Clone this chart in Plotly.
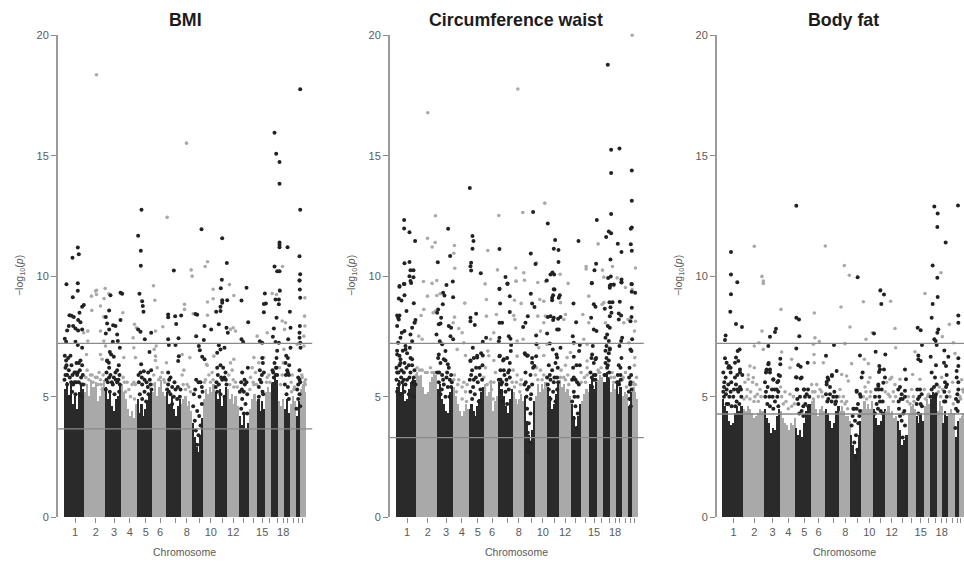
import plotly.graph_objects as go

DARK = "#2a2a2a"
GREY = "#a9a9a9"
LINE = "#8a8a8a"
TEXT = "#5a5a5a"

chrom_len = [61,63,48,48,46,42,44,33,34,34,38,34,31,26,22,19,20,19,16,19,14,17]
label_offset = [35,97,152,199,247,290,370,442,509,596,659]
label_text = ["1","2","3","4","5","6","8","10","12","15","18"]
minor_offset = [336,407,476,541,569,619,641,673,691,706,716]

titles = ["BMI", "Circumference waist", "Body fat"]
starts = [189, 195, 186]
sig_line = [7.21, 7.21, 7.21]
sug_line = [3.66, 3.3, 4.28]

bmi_mass = [[5.3,5.6,5.0,5.5,4.7,5.0,4.5,5.2,5.5,5.3],[5.2,5.5,5.0,5.7,5.4,5.6,4.8,5.0,5.4,5.7],[5.4,4.9,5.2,4.6,4.4,4.9,5.0,5.5],[5.5,5.2,4.9,4.5,4.2,4.4,4.1,4.7],
 [4.9,4.3,4.7,4.2,4.5,4.8,5.1,5.3],[5.2,5.6,5.0,5.4,5.7,5.2,5.0],[5.2,4.7,5.0,4.5,4.2,4.6,4.9],[4.7,4.9,5.0,4.6,4.8,4.4],[3.9,3.3,2.9,2.7,3.4,4.1],[4.9,5.3,5.1,5.4,5.2,5.5],
 [5.2,4.9,5.3,4.6,5.0,5.4],[5.3,4.9,5.1,4.7,5.0,4.6],[4.2,3.8,4.3,3.7,3.9],[4.5,4.9,5.1,4.8],[4.9,4.4,4.8,4.5],[5.2,5.4,5.2],[5.6,5.8,5.7],[4.8,4.6,4.9],[4.5,4.9,4.3],[4.7,5.0,4.8],[4.2,4.8],[5.3,5.5,5.2]]
cw_mass = [[5.4,5.7,5.2,5.5,4.8,4.9,5.3,5.6,5.8,5.7],[6.0,5.8,5.9,5.4,5.1,5.2,5.6,5.8,6.0,5.9],[5.3,5.5,4.9,4.7,4.4,4.3,5.2,5.4],[5.4,5.0,4.7,4.4,4.2,4.4,4.7,4.5],
 [4.5,4.7,4.4,4.2,4.6,4.9,5.2,5.4],[5.5,5.0,5.2,5.7,4.4,4.8,5.0],[5.6,5.3,5.0,4.6,4.3,4.9,5.3],[5.2,4.9,4.7,4.9,5.1,4.8],[5.0,4.0,3.4,3.1,3.6,4.8],[5.0,5.5,5.2,5.5,5.3,5.6],
 [5.4,5.0,4.5,4.7,5.1,5.5],[5.7,5.4,5.5,5.2,5.3,5.0],[4.7,4.2,3.7,4.2,4.7],[4.8,5.1,5.3,5.2],[5.5,5.8,5.3,5.6],[5.7,5.9,5.8],[5.6,6.0,5.8],[5.2,5.5,5.3],[5.5,5.1,5.4],[5.0,5.2,5.1],[4.6,5.2],[5.4,5.2,4.9]]
bf_mass = [[4.9,4.6,4.4,4.0,3.8,3.9,4.3,4.6,4.4,4.6],[4.5,4.4,4.6,4.5,4.3,4.1,4.2,4.3,4.5,4.4],[4.5,4.1,3.9,3.5,3.7,3.6,4.2,4.5],[4.4,4.1,3.9,3.8,3.6,3.9,3.8,4.1],
 [3.7,3.4,3.6,3.3,3.9,4.4,4.6,4.7],[4.8,4.9,4.5,4.2,4.5,4.6,4.4],[4.5,4.3,4.0,3.7,3.9,4.4,4.6],[4.4,4.6,4.4,4.2,4.2,4.0],[3.4,3.0,2.6,2.8,3.4,4.0],[4.5,4.8,4.5,4.7,4.5,4.8],
 [4.5,4.1,3.8,4.0,4.3,4.5],[4.4,4.6,4.3,4.4,4.1,4.2],[4.0,3.6,3.0,3.2,3.4],[4.3,4.6,4.7,4.5],[4.2,3.9,4.3,4.0],[4.6,4.9,4.7],[4.9,5.2,5.0],[4.4,4.8,4.6],[3.9,4.4,4.2],[4.3,4.5,4.3],[3.3,4.0],[4.1,4.2,4.3]]

bmi_black = [(198,9.66),(216,10.76),(232,11.19),(235,10.91),(232,9.71),(413,11.68),(421,11.05),(421,10.43),(423,12.76),(520,10.23),(603,11.95),(665,11.57),(679,10.55),(664,9.85),(661,9.5),(738,9.52),(822,15.95),(827,15.08),(837,14.74),(837,13.83),(899,17.76),(899,12.76),(837,11.4),(837,11.3),(837,11.2),(861,11.2),(897,10.83),(822,10.4),(830,10.2),(837,10.2),(899,10.08),(897,9.82),(898,9.45),
 (217,9.12),(232,9.39),(250,8.8),(245,8.73),(237,8.48),(207,8.38),(213,8.36),(220,8.31),(205,7.93),(200,7.75),(218,7.93),(225,7.83),(233,7.75),(233,8.18),(240,8.09),(245,7.79),(193,7.4),(197,7.28),(225,7.28),(232,7.14),(245,7.03),
 (330,9.21),(326,8.58),(316,8.31),(320,8.04),(326,7.79),(316,7.62),(338,7.96),(345,7.93),(360,8.18),(350,7.58),(337,7.28),(352,7.31),(358,7.03),(328,6.85),(332,6.75),(340,6.66),(320,6.48),(325,6.41),(360,9.31),(365,9.27),
 (417,9.27),(425,8.96),(427,8.76),(429,8.52),(413,7.79),(420,7.69),(433,7.38),(452,7.65),(447,6.85),(422,6.34),
 (503,8.41),(503,8.3),(503,7.38),(505,7.14),(525,7.14),(524,8.34),(542,8.37),(527,8.02),(534,7.42),(535,6.68),(533,6.48),
 (585,8.43),(590,8.4),(587,7.51),(595,7.1),(598,6.93),(605,6.66),(612,6.55),(610,7.35),(612,7.93),(632,7.79),
 (647,8.52),(660,8.55),(660,8.73),(665,8.9),(665,9.0),(680,9.0),(655,8.0),(655,7.13),(650,6.82),(660,6.96),(672,7.03),(678,7.86),(682,7.65),(723,8.99),(743,8.09),(723,7.38),(728,7.27),
 (790,8.85),(796,8.87),(790,8.5),(793,9.28),(778,7.3),(785,7.24),
 (825,9.03),(835,9.03),(835,8.83),(838,9.4),(828,8.27),(820,7.83),(817,7.49),(825,7.27),(835,7.24),(868,8.52),(870,7.86),(863,7.38),(870,7.03),
 (897,9.82),(899,9.1),(898,7.93),(897,7.65),(897,7.44),(900,7.03),(899,7.24)]
bmi_grey = [(288,18.36),(558,15.52),(500,12.44),(572,10.26),(575,10.0),(621,10.6),(614,10.4),(846,10.4),(459,9.6),(687,9.65),(638,9.46),(314,9.49),(288,9.41),(837,9.43),
 (273,9.17),(285,9.38),(311,9.07),(325,9.27),(300,8.76),(274,8.58),(288,9.24),(262,7.72),(250,7.65),(300,7.72),(310,8.31),(367,8.48),(362,9.31),(402,8.0),(408,7.86),(398,7.44),(400,7.03),(463,9.0),(465,7.72),(487,7.9),(552,8.83),(552,8.62),(578,8.44),(621,8.38),(621,8.93),(638,9.06),(700,9.2),(698,7.86),(690,7.79),(705,7.72),(770,7.51),(800,7.65),(815,9.28),(828,9.24),(845,8.14),(855,8.07),(852,7.79),(913,9.1),(912,8.34),(913,7.93),(910,7.51),(890,7.17),(910,7.1),(850,6.96),(262,7.31),(310,7.31),(315,7.1),(258,6.75),(305,6.55),(300,6.75),(370,6.62),(405,6.62),(461,6.96),(467,7.1),(465,6.68),(498,6.41),(545,6.75),(568,6.62),(618,6.34),(640,6.68),(700,6.55),(760,6.62),(790,6.62),(775,6.41)]
bmi_black_fuzz = [(193,6.7),(197,6.5),(203,6.6),(210,6.7),(195,6.2),(205,6.1),(213,6.3),(200,5.9),(192,5.7),(208,5.8),(218,5.5),(222,6.0),(232,6.0),(240,6.5),(245,6.3),(238,6.1),(247,5.9),(228,6.4),(235,5.6),(243,5.5),(227,5.6),(215,5.2),(225,5.1),(238,5.1),(245,5.0),(207,5.0),
 (320,6.5),(326,6.2),(318,6.0),(330,5.9),(340,5.8),(355,6.3),(350,6.1),(345,6.0),(357,5.9),(322,5.6),(337,5.5),(350,5.6),(356,5.2),(328,5.2),(342,5.1),(316,5.3),
 (420,6.0),(430,6.05),(443,6.0),(452,6.1),(415,5.6),(425,5.5),(438,5.6),(448,5.7),(453,5.3),(418,5.1),(432,5.2),(444,5.1),(425,4.9),(437,4.8),
 (503,6.0),(510,5.8),(503,5.5),(515,5.4),(525,5.3),(540,5.3),(510,5.1),(520,5.0),(530,4.9),(505,5.2),(538,5.0),(515,4.7),
 (580,5.1),(587,5.7),(600,5.6),(606,5.2),(578,4.6),(597,5.0),(604,4.7),(590,4.4),(583,4.0),(596,4.2),(586,3.6),(594,3.4),(590,3.0),(600,3.8),
 (650,6.2),(660,6.3),(668,6.2),(675,6.0),(648,5.6),(655,5.5),(665,5.7),(678,5.5),(672,5.8),(650,5.2),(660,5.1),(672,5.0),
 (725,6.0),(732,5.7),(722,5.6),(730,5.2),(740,5.1),(718,5.2),(725,4.9),(735,4.7),(722,4.5),(740,4.3),(730,4.3),(742,6.2),
 (785,6.6),(787,6.4),(778,6.1),(790,6.0),(782,5.6),(775,5.4),(786,5.2),(775,5.0),(788,5.1),
 (830,6.9),(828,6.6),(822,6.4),(828,6.2),(818,6.0),(826,5.9),(820,5.8),
 (857,6.7),(862,6.6),(866,6.3),(855,6.4),(860,6.1),(865,5.9),(853,5.5),(862,5.4),(858,5.1),(865,4.9),
 (897,6.1),(893,5.8),(899,5.6),(890,5.3),(897,5.1),(893,4.9),(899,4.6),(888,4.5),
 (195,5.9),(200,5.5),(212,5.6),(222,5.6),(230,5.9),(242,5.8),(248,5.5),(198,6.3),(216,5.9),(225,6.0),(235,6.4),(326,5.8),(334,5.6),(346,5.7),(354,5.7),(358,5.5),(318,5.7),(424,5.8),(432,5.7),(414,5.9),(442,5.4),(450,5.5),(506,5.7),(522,5.6),(532,5.4),(500,5.3),(584,5.3),(594,5.6),(604,5.4),(652,5.9),(662,5.8),(676,5.7),(646,5.4),(724,5.3),(733,5.5),(738,5.6),(778,5.7),(784,5.9),(816,6.1),(826,6.2),(830,5.9),(856,5.9),(862,6.0),(893,5.5),(897,5.7)]
bmi_grey_fuzz = [(260,6.1),(270,5.9),(285,5.8),(300,5.7),(308,5.9),(265,5.7),(278,5.6),(293,5.5),(253,5.5),(305,5.3),(368,5.8),(380,5.6),(395,5.5),(405,5.5),(375,5.2),(390,5.0),(402,4.9),(460,5.9),(470,6.2),(480,5.8),(490,5.7),(465,6.5),(545,5.9),(560,5.5),(570,5.2),(550,6.1),(555,5.3),(612,5.6),(625,5.9),(635,6.0),(620,6.3),(685,5.9),(695,6.1),(705,5.6),(690,6.4),(700,5.4),(750,5.8),(760,5.5),(765,6.0),(755,6.2),(798,5.6),(805,5.9),(837,6.2),(845,5.9),(848,6.4),(872,5.6),(880,5.3),(875,5.9),(905,5.8),(912,5.6),(908,5.4),(914,5.5),
 (256,5.8),(275,5.9),(290,5.8),(302,5.5),(296,6.0),(372,5.6),(385,5.3),(400,5.6),(458,5.5),(475,5.7),(485,6.0),(493,5.6),(548,5.5),(565,5.4),(615,5.7),(630,5.6),(638,5.7),(688,5.5),(698,5.7),(710,5.4),(748,5.3),(758,5.6),(768,5.5),(800,5.8),(808,5.6),(840,5.5),(873,5.2),(882,5.4),(904,5.9),(915,5.7)]

cw_black = [(207,9.56),(220,9.67),(221,12.33),(221,11.98),(237,11.82),(254,11.46),(222,10.54),(237,10.59),(240,10.25),(249,10.25),(237,10.0),(249,9.96),(240,9.8),(242,9.72),(353,11.97),(359,10.84),(322,10.58),(348,9.63),(367,9.78),(418,13.66),(426,11.67),(429,11.46),(426,11.14),(422,10.56),(420,10.41),(422,10.23),(451,10.12),(507,11.13),(525,9.97),(531,9.68),(507,9.48),(608,12.66),(652,12.19),(674,11.5),(670,11.14),(684,11.09),(601,10.94),(615,10.51),(684,10.59),(660,10.07),(666,10.15),(671,10.07),(649,9.82),(670,9.46),(744,11.46),(799,12.33),(797,10.52),(792,10.25),(784,9.71),(832,18.77),(842,15.25),(867,15.3),(842,14.28),(842,12.58),(835,11.85),(842,11.78),(827,11.63),(862,11.35),(873,11.0),(840,10.69),(833,9.92),(841,9.99),(873,9.86),(873,9.74),(841,9.64),(838,9.52),(904,14.39),(904,13.13),(904,12.02),(901,11.97),(901,11.32),(904,11.05),(904,9.66),
 (207,9.59),(222,9.67),(205,9.07),(213,8.99),(222,9.21),(250,8.88),(228,8.55),(200,8.37),(207,8.37),(203,8.27),(205,8.2),(200,7.93),(214,7.65),(222,7.72),(245,7.86),(255,8.18),(252,8.07),(210,7.44),(203,7.24),(240,7.58),(245,7.3),(225,6.96),(238,7.03),(200,6.75),(210,6.55),(245,6.55),
 (338,9.31),(342,9.2),(337,8.83),(323,8.62),(320,8.48),(332,8.27),(330,8.04),(325,8.0),(355,7.93),(362,7.86),(318,7.58),(328,7.3),(335,7.17),(360,7.51),(368,7.38),(345,6.89),(325,6.75),(340,6.55),(352,6.34),
 (368,9.13),(427,7.03),(437,8.44),(420,8.27),(420,8.13),(433,7.97),(457,7.28),(467,7.44),(440,6.62),(457,6.71),(420,6.48),
 (507,9.47),(531,9.7),(538,9.17),(509,8.87),(538,8.51),(507,8.07),(515,8.07),(507,7.44),(505,7.3),(535,7.51),(540,7.4),(542,7.14),(541,6.89),(507,6.68),(520,6.55),
 (601,9.27),(605,8.87),(612,8.72),(592,8.34),(585,8.07),(578,7.89),(585,6.75),(592,6.71),(618,7.17),(617,7.54),(617,6.68),(605,6.41),(612,6.27),
 (672,9.45),(668,9.21),(688,9.21),(665,9.1),(685,9.1),(665,9.0),(660,8.34),(652,8.31),(670,8.27),(683,8.23),(690,8.31),(668,8.18),(650,7.62),(680,7.79),(685,7.79),(658,7.21),(667,6.96),(678,6.75),(690,7.03),(680,6.62),
 (729,8.87),(737,8.09),(727,7.51),(730,7.24),(748,7.14),(746,6.89),(730,6.66),
 (784,9.72),(790,8.83),(795,8.73),(782,8.27),(790,7.79),(798,7.72),(787,7.1),(785,6.75),(795,6.55),
 (838,9.6),(850,9.65),(873,9.75),(903,9.68),(904,9.35),(914,9.31),(837,8.92),(846,8.92),(868,8.94),(823,8.65),(840,8.71),(843,8.48),(838,8.34),(832,7.93),(838,7.86),(830,7.58),(825,7.44),(835,7.31),(828,7.1),(838,6.96),(865,8.45),(872,8.37),(865,8.2),(872,7.31),(875,7.44),(867,7.1),(904,8.69),(903,8.31),(900,8.13),(905,7.38),(900,6.96),(903,6.89)]
cw_grey = [(292,16.78),(562,17.77),(905,20.0),(643,13.03),(577,12.64),(505,12.52),(315,12.51),(291,11.57),(314,11.4),(305,11.21),(372,11.27),(370,10.95),(472,11.06),(373,10.33),(556,10.34),(501,10.26),(580,10.14),(618,10.55),(689,10.08),(803,11.34),(767,10.4),(767,10.3),(846,10.4),(816,10.25),(915,10.34),(820,9.96),(860,9.93),(279,9.78),(319,9.82),(305,9.7),(464,9.68),(557,9.79),(582,9.83),(622,9.74),(645,9.78),(713,9.7),(850,9.6),(885,9.53),(905,9.45),
 (291,9.17),(319,9.2),(329,9.27),(280,8.62),(272,8.37),(308,8.48),(315,8.55),(403,8.88),(372,8.3),(368,8.07),(385,7.83),(395,7.65),(265,7.51),(275,7.38),(255,8.07),(468,9.03),(468,8.34),(498,8.41),(550,8.37),(553,8.2),(572,8.87),(552,9.0),(557,9.8),(578,7.38),(560,7.31),(622,8.34),(628,9.03),(640,8.96),(645,8.34),(640,8.07),(630,7.72),(650,7.17),(690,8.9),(700,8.2),(705,8.41),(757,8.41),(775,9.17),(820,8.9),(815,8.83),(825,8.07),(775,8.07),(880,8.07),(893,8.2),(915,8.13),(912,7.72),(895,7.24),(913,6.62),(760,7.38),(770,7.17),(400,7.24),(380,6.96),(405,6.71),(490,7.65),(480,7.38),(472,6.89),(560,6.68),(625,7.03),(640,6.71),(710,6.62),(720,6.83),(770,6.48)]
cw_black_fuzz = [(200,6.0),(207,6.3),(213,6.1),(220,6.0),(228,6.2),(235,6.3),(245,6.3),(252,6.1),(198,5.7),(205,5.5),(215,5.6),(225,5.5),(237,5.8),(247,5.6),(255,5.5),(200,5.2),(210,5.1),(222,5.2),(235,5.1),(250,5.0),(207,6.7),(217,6.9),(230,6.8),(240,6.6),(200,6.9),(225,7.1),
 (323,6.6),(330,6.4),(345,6.5),(355,6.2),(320,6.0),(335,5.9),(348,5.8),(362,5.9),(325,5.6),(340,5.5),(352,5.4),(362,5.4),(330,5.1),(345,5.0),(357,5.0),
 (420,6.5),(430,6.6),(440,6.7),(452,6.8),(425,6.1),(437,6.2),(447,6.2),(418,5.7),(430,5.7),(442,5.6),(455,5.7),(420,5.2),(433,5.1),(450,5.3),(425,4.9),(445,4.8),
 (508,6.7),(518,6.5),(530,6.6),(538,6.4),(510,6.1),(520,6.1),(533,6.0),(505,5.7),(515,5.6),(528,5.7),(538,5.8),(510,5.2),(525,5.2),(535,5.3),(515,4.8),(530,4.7),
 (583,6.8),(590,6.7),(605,6.6),(585,6.0),(600,5.9),(608,6.2),(582,5.5),(595,5.4),(605,5.5),(588,5.0),(600,4.9),(590,4.5),(600,4.3),(595,3.9),(592,3.5),(598,3.1),(594,2.7),
 (655,6.3),(665,6.1),(675,6.4),(682,6.2),(650,5.8),(660,5.7),(672,5.8),(683,5.6),(655,5.3),(668,5.2),(680,5.3),(660,4.9),(675,4.8),
 (728,6.2),(738,6.3),(748,6.3),(725,5.7),(735,5.7),(745,5.5),(730,5.2),(742,5.0),(725,4.8),(735,4.6),(742,4.3),(730,4.1),(738,3.7),
 (783,6.6),(790,6.4),(797,6.6),(780,6.0),(790,5.9),(795,5.7),(785,5.4),
 (825,6.4),(835,6.8),(830,6.2),(822,5.9),(836,6.0),(828,6.6),(838,7.0),(825,6.9),
 (865,6.3),(870,6.2),(862,5.9),(871,5.7),(866,5.5),(873,6.6),(860,5.6),
 (897,6.2),(902,5.9),(899,5.5),(895,5.2),(903,5.3),(897,4.9),(901,4.6),
 (198,6.2),(204,6.0),(212,5.8),(220,5.7),(230,5.7),(240,6.0),(250,5.8),(210,6.4),(222,6.4),(326,6.0),(338,5.7),(350,6.0),(358,5.7),(364,5.6),(334,5.3),(422,5.9),(436,5.8),(448,5.9),(456,6.3),(428,5.4),(510,5.7),(522,5.9),(536,6.1),(512,5.5),(528,5.5),(590,5.3),(602,5.1),(586,5.6),(658,5.9),(670,5.6),(680,5.8),(652,5.5),(730,5.8),(740,5.6),(732,5.0),(784,5.8),(790,5.7),(795,5.9),(824,5.9),(832,6.3),(835,6.5),(864,5.6),(870,5.9),(896,5.8),(900,5.6)]
cw_grey_fuzz = [(260,6.2),(275,6.1),(285,6.0),(300,6.2),(312,6.0),(265,5.8),(310,5.6),(372,5.9),(385,5.7),(400,5.6),(410,5.5),(378,5.2),(395,4.9),(408,4.8),(465,6.2),(475,6.7),(490,6.5),(495,6.0),(470,5.5),(483,5.3),(488,4.9),(548,6.1),(560,5.9),(572,5.7),(552,5.4),(568,5.2),(618,6.2),(630,6.1),(640,5.9),(622,5.7),(692,6.1),(700,5.8),(712,5.9),(705,6.3),(752,6.0),(762,5.8),(770,6.2),(805,6.0),(812,6.2),(845,6.0),(852,5.8),(878,5.8),(885,6.0),(912,6.3),(918,5.8),(910,5.5),
 (258,5.9),(268,6.1),(290,6.0),(305,6.0),(370,5.7),(382,5.5),(395,5.4),(405,5.2),(460,5.8),(480,5.6),(490,5.6),(545,5.6),(558,5.6),(570,5.5),(615,5.9),(635,5.7),(690,5.8),(705,5.7),(715,5.5),(752,5.6),(765,5.6),(770,5.9),(803,6.1),(808,6.0),(842,5.8),(850,5.6),(876,5.7),(888,5.4),(908,5.6),(915,5.5)]

bf_black = [(213,11.0),(213,10.07),(232,9.75),(409,12.92),(593,9.96),(823,12.89),(833,12.6),(832,12.04),(857,11.4),(818,10.44),(832,9.93),(894,12.93),
 (213,9.25),(211,8.52),(228,8.01),(246,7.89),(197,7.54),(195,7.35),(239,6.96),(233,6.89),(228,6.62),(195,6.59),(200,6.41),(207,6.27),(212,6.2),(225,6.41),(235,6.48),(240,6.13),
 (348,7.82),(345,7.68),(330,7.49),(325,7.1),(361,6.57),(361,6.34),(325,6.34),(320,6.13),(330,6.13),(360,5.86),(318,6.0),(340,5.72),(355,5.65),
 (409,8.27),(417,8.2),(418,7.51),(409,7.0),(443,6.41),(415,6.3),(422,6.24),(408,5.81),(422,5.75),(410,5.3),(432,5.3),
 (661,9.41),(672,9.24),(664,8.85),(642,7.62),(647,6.86),(676,6.75),(522,7.14),(498,6.7),(530,6.06),(516,5.86),(503,5.79),(500,5.61),(600,6.71),(608,6.0),(605,5.79),(590,5.24),
 (658,6.27),(672,6.13),(660,6.13),(657,6.02),(675,5.79),(670,5.58),(655,5.44),
 (818,8.85),(833,9.14),(815,8.27),(773,7.86),(782,7.76),(835,7.79),(832,7.65),(823,7.38),(827,7.31),(830,7.14),(786,7.14),(853,6.92),(775,6.71),(775,6.55),(782,6.48),(812,6.66),(735,6.13),(738,5.72),(735,5.24),
 (895,8.37),(895,8.07),(895,6.59),(865,6.66),(852,6.41),(858,6.27),(895,6.27),(890,6.06)]
bf_grey = [(283,11.24),(496,11.25),(553,10.44),(568,10.04),(306,9.99),(310,9.8),(310,9.7),(843,10.14),(662,9.44),
 (363,8.62),(463,8.47),(543,8.72),(610,8.94),(692,8.96),(795,9.28),(570,7.89),(705,7.83),(306,7.72),(868,8.0),(637,7.65),(618,7.38),(465,7.44),(478,7.29),(460,7.17),(555,7.2),(707,7.03),(847,7.49),(880,7.24),(297,7.24),(283,7.1),(310,6.96),(765,6.86),(885,6.79),(365,6.85),(395,6.55),(462,6.75),(463,6.41),(490,6.41),(575,6.37),(613,6.55),(625,6.37),(758,5.92),(270,6.27),(283,6.2),(265,5.72),(280,5.79),(390,6.2),(415,6.34),(545,5.92),(560,5.86),(565,5.65),(630,5.79),(690,5.72),(720,5.72),(780,5.72)]
bf_black_fuzz = [(190,6.0),(193,5.6),(197,5.8),(205,6.2),(212,6.0),(205,5.5),(214,5.6),(190,5.2),(200,5.3),(192,5.0),(225,5.8),(232,5.9),(240,6.0),(247,5.9),(228,5.5),(240,5.4),(235,5.2),(220,5.0),(230,4.8),(244,5.0),(200,4.7),(215,4.6),
 (320,6.1),(330,6.0),(326,6.4),(315,5.6),(323,5.4),(340,5.7),(352,5.6),(356,5.9),(350,5.3),(355,5.2),(316,5.0),(338,5.0),(322,4.7),(345,4.8),(355,4.6),
 (410,5.8),(425,5.8),(432,5.3),(440,5.1),(448,5.0),(412,5.3),(415,4.7),(436,4.7),(445,4.6),(425,4.4),(440,4.3),(430,4.2),
 (505,5.7),(516,5.9),(500,5.5),(523,5.2),(530,5.0),(510,5.1),(505,4.9),(515,4.8),(528,4.8),
 (590,5.2),(600,5.1),(602,5.0),(580,4.5),(590,4.5),(600,4.4),(585,4.0),(595,3.9),(575,3.8),(588,3.4),(583,3.1),(592,2.8),(587,2.5),
 (655,5.5),(665,5.3),(645,5.0),(658,5.0),(668,4.8),(650,4.7),(662,4.4),(645,4.3),(668,4.3),
 (720,5.4),(725,5.1),(735,5.0),(715,5.3),(722,4.9),(717,4.5),(730,4.3),(725,4.0),(735,3.8),(728,3.3),
 (772,5.3),(785,5.1),(778,5.0),(770,4.7),(782,4.7),(775,4.3),
 (815,5.3),(825,5.8),(820,5.0),(830,5.5),(815,6.0),(828,5.1),(828,6.3),
 (855,5.6),(860,5.9),(853,5.2),(860,5.0),(856,4.8),(861,5.5),
 (890,5.8),(895,5.3),(888,4.9),(893,4.4),(886,3.7),(894,4.8),(895,5.6),
 (192,5.4),(198,5.1),(208,5.0),(212,5.2),(222,5.3),(232,5.3),(243,5.3),(205,4.7),(226,4.6),(238,4.7),(318,5.2),(328,5.0),(336,5.3),(344,5.3),(352,5.0),(330,4.6),(340,4.5),(412,4.9),(420,5.0),(435,5.0),(444,5.3),(430,4.6),(418,4.3),(498,5.1),(510,5.4),(520,5.0),(526,4.7),(502,4.8),(582,4.5),(594,4.7),(598,4.2),(578,4.2),(648,5.3),(656,5.3),(660,4.8),(654,4.5),(716,4.8),(728,4.9),(733,4.4),(720,4.2),(774,4.9),(780,5.3),(786,4.6),(812,5.0),(822,5.4),(826,5.0),(852,4.8),(858,5.4),(888,4.5),(892,5.1)]
bf_grey_fuzz = [(255,5.6),(265,5.9),(278,5.6),(290,5.5),(300,5.3),(260,5.0),(270,4.9),(285,5.0),(295,4.8),(362,5.4),(375,5.2),(390,5.1),(400,5.0),(370,4.7),(385,4.5),(455,5.5),(465,5.2),(480,5.3),(488,5.0),(460,4.9),(540,5.3),(550,5.0),(560,4.8),(563,4.5),(615,5.4),(625,5.6),(632,5.2),(620,4.9),(680,5.6),(695,5.8),(705,5.5),(690,5.0),(700,4.8),(745,5.0),(755,5.3),(762,4.8),(793,5.3),(803,5.0),(838,5.4),(845,5.8),(868,5.2),(878,5.6),(905,5.7),(908,5.3),(900,5.0),
 (252,4.9),(262,5.3),(272,5.2),(282,4.8),(292,5.1),(303,5.0),(365,5.0),(378,4.8),(395,4.6),(403,4.7),(458,5.2),(470,5.5),(475,5.0),(485,5.2),(537,5.0),(545,4.8),(555,4.7),(610,5.0),(618,5.2),(630,5.0),(676,5.2),(685,5.1),(700,5.2),(707,5.0),(742,4.8),(750,4.7),(760,5.0),(796,4.9),(806,5.1),(835,5.2),(842,5.0),(848,5.3),(870,5.0),(880,4.7),(902,4.9),(910,5.2)]

masses = [bmi_mass, cw_mass, bf_mass]
blacks = [bmi_black + bmi_black_fuzz, cw_black + cw_black_fuzz, bf_black + bf_black_fuzz]
greys = [bmi_grey + bmi_grey_fuzz, cw_grey + cw_grey_fuzz, bf_grey + bf_grey_fuzz]

W, H = 964, 564
frames = [(57.8, 312.2), (389.8, 643.8), (716.8, 964.0)]
ranges = [(172, 935), (178, 940), (170.5, 912)]
title_px = [185, 516, 843]
ylab_px = [20, 352, 679]
xlab_px = [184, 516, 844]

def paper_y(py):
    # page pixel row to paper fraction; the drawn area spans rows 5 to 559
    return 1 - (py - 5) / 554

dom_y = [paper_y(518), paper_y(34.3)]

fig = go.Figure()
layout = dict(width=W, height=H, margin=dict(l=0, r=0, t=0, b=0), showlegend=False, bargap=0,
              plot_bgcolor="white", paper_bgcolor="white", barmode="overlay",
              font=dict(family="Liberation Sans, Arial, sans-serif", color=TEXT, size=11))
annotations, shapes = [], []

for i in range(3):
    suffix = "" if i == 0 else str(i + 1)
    xa, ya = "x" + suffix, "y" + suffix
    pos = starts[i]
    for c, heights in enumerate(masses[i]):
        step = chrom_len[c] / len(heights)
        fig.add_trace(go.Bar(x=[pos + step * (k + 0.5) for k in range(len(heights))], y=heights, width=step,
                             marker=dict(color=DARK if c % 2 == 0 else GREY, line=dict(width=0)),
                             xaxis=xa, yaxis=ya, hoverinfo="skip"))
        pos += chrom_len[c]
    g = greys[i]
    fig.add_trace(go.Scatter(x=[p[0] for p in g], y=[p[1] for p in g], mode="markers", cliponaxis=False,
                             marker=dict(color=GREY, size=3.6, line=dict(width=0)), xaxis=xa, yaxis=ya))
    b = blacks[i]
    fig.add_trace(go.Scatter(x=[p[0] for p in b], y=[p[1] for p in b], mode="markers", cliponaxis=False,
                             marker=dict(color="#222222", size=4.0, line=dict(width=0)), xaxis=xa, yaxis=ya))
    layout["xaxis" + suffix] = dict(domain=[frames[i][0] / W, frames[i][1] / W], range=list(ranges[i]),
        showgrid=False, zeroline=False, showline=False, ticks="outside", ticklen=5, tickwidth=1, tickcolor=LINE,
        tickmode="array", tickvals=[starts[i] + t for t in label_offset], ticktext=label_text,
        minor=dict(tickmode="array", tickvals=[starts[i] + t for t in minor_offset], ticks="outside",
                   ticklen=5, tickwidth=1, tickcolor=LINE, showgrid=False),
        tickfont=dict(size=11, color=TEXT), anchor=ya)
    layout["yaxis" + suffix] = dict(domain=dom_y, range=[0, 20], showgrid=False, zeroline=False, showline=True,
        linecolor="#9a9a9a", linewidth=1.6, ticks="outside", ticklen=5, tickwidth=1, tickcolor=LINE,
        tickmode="array", tickvals=[0, 5, 10, 15, 20], tickfont=dict(size=11, color=TEXT), anchor=xa)
    for val in (sig_line[i], sug_line[i]):
        shapes.append(dict(type="line", xref=xa + " domain", yref=ya, x0=0, x1=1, y0=val, y1=val,
                           line=dict(color=LINE, width=1.3), layer="above"))
    annotations += [
        dict(text="<b>%s</b>" % titles[i], x=title_px[i] / W, y=paper_y(19), xref="paper", yref="paper",
             xanchor="center", yanchor="middle", showarrow=False, font=dict(size=17.8, color="#1c1c1c")),
        dict(text="Chromosome", x=xlab_px[i] / W, y=paper_y(553), xref="paper", yref="paper",
             xanchor="center", yanchor="middle", showarrow=False, font=dict(size=10.5, color=TEXT)),
        dict(text="\u2212log<sub>10</sub>(<i>p</i>)", x=ylab_px[i] / W, y=paper_y(276), xref="paper", yref="paper",
             xanchor="center", yanchor="middle", showarrow=False, textangle=-90, font=dict(size=10.5, color=TEXT)),
    ]

layout["annotations"] = annotations
layout["shapes"] = shapes
fig.update_layout(**layout)
fig.write_html("out.html", config={"displayModeBar": False},
               post_script="document.body.style.margin='0';document.documentElement.style.overflow='hidden';")
